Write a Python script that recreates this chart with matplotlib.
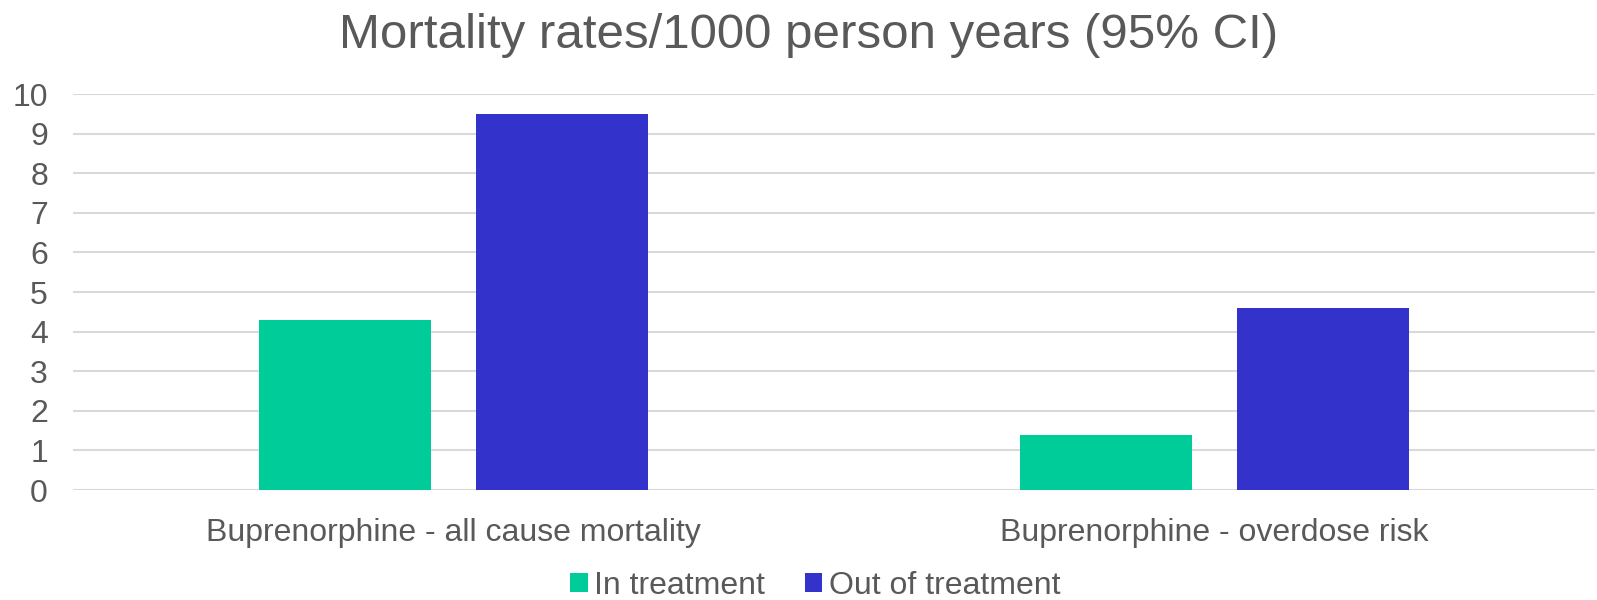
import matplotlib
matplotlib.use("Agg")
import matplotlib.pyplot as plt
import numpy as np

categories = ["Buprenorphine - all cause mortality", "Buprenorphine - overdose risk"]
series_names = ["In treatment", "Out of treatment"]
in_treatment = [4.3, 1.4]
out_of_treatment = [9.5, 4.6]
colors = ["#00CC99", "#3333CC"]
y_ticks = list(range(0, 11))

plt.rcParams["font.family"] = ["Liberation Sans", "DejaVu Sans"]
text_color = "#595959"

fig = plt.figure(figsize=(15.97, 6.0), dpi=100)
ax = fig.add_axes([0.0457, 0.1833, 0.953, 0.66])

x = np.arange(len(categories))
width = 0.225
offset = 0.1426
ax.bar(x - offset, in_treatment, width, color=colors[0], label=series_names[0], zorder=3)
ax.bar(x + offset, out_of_treatment, width, color=colors[1], label=series_names[1], zorder=3)

ax.set_xlim(-0.5, len(categories) - 0.5)
ax.set_ylim(0, 10)
ax.set_yticks(y_ticks)
ax.set_xticks(x)
ax.set_xticklabels(categories)
ax.yaxis.grid(True, color="#d9d9d9", linewidth=1.5, zorder=0)
ax.set_axisbelow(True)
for s in ax.spines.values():
    s.set_visible(False)
ax.tick_params(axis="both", length=0, labelsize=23, colors=text_color)
ax.tick_params(axis="y", pad=18)
ax.tick_params(axis="x", pad=20)

fig.text(0.506, 0.94, "Mortality rates/1000 person years (95% CI)",
         ha="center", va="center", fontsize=35.5, color=text_color)

leg = fig.legend(loc="center", bbox_to_anchor=(0.5105, 0.024), ncol=2, frameon=False,
                 fontsize=23, handlelength=0.55, handleheight=0.55,
                 handletextpad=0.2, columnspacing=1.25, borderpad=0.2)
for t in leg.get_texts():
    t.set_color(text_color)

fig.savefig("out.png", dpi=100, facecolor="white")
